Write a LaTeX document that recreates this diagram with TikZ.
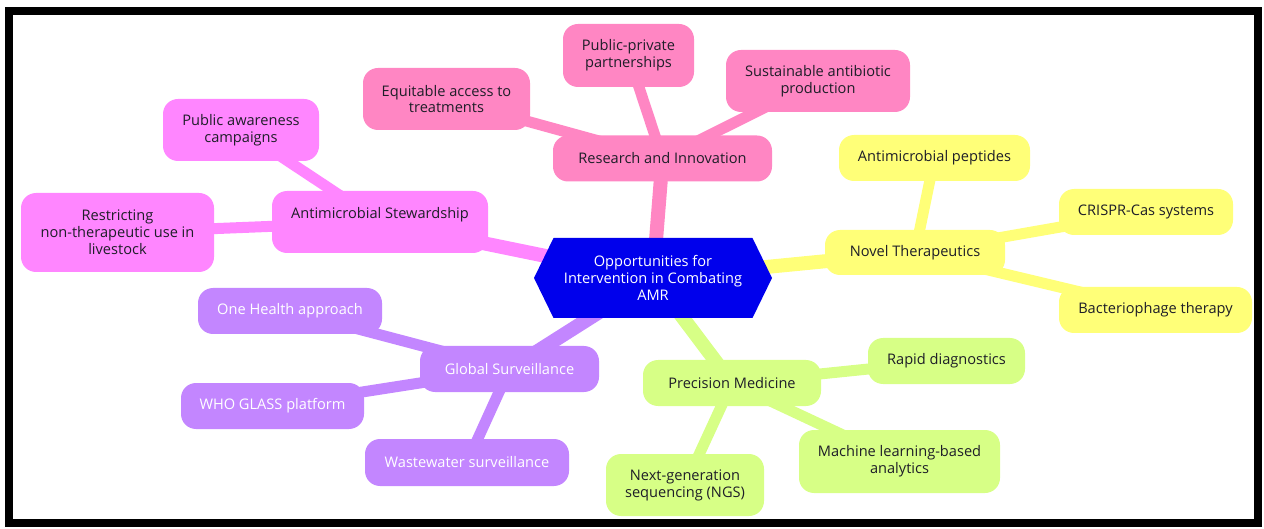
\documentclass[tikz,border=0pt]{standalone}
\usepackage{fontspec}
\setmainfont{Open Sans}
\usepackage{xcolor}
\usepackage{tikz}
\usetikzlibrary{shapes.symbols}
\usetikzlibrary{backgrounds}
\definecolor{rootcolor}{HTML}{0000EC}
\definecolor{pinkcolor}{HTML}{FF86C3}
\definecolor{magentacolor}{HTML}{FF86FF}
\definecolor{yellowcolor}{HTML}{FFFF78}
\definecolor{greencolor}{HTML}{D7FF86}
\definecolor{purplecolor}{HTML}{C386FF}
\definecolor{labelcolor}{HTML}{1E1E28}

\begin{document}
\begin{tikzpicture}[x=1pt,y=-1pt,
    every node/.style={font=\fontsize{14.6}{16.8}\selectfont, align=center, inner sep=0pt},
    mapbox/.style={rounded corners=15pt, fill=#1, text=labelcolor},
    rootbox/.style={signal, signal to=west and east, signal pointer angle=128, fill=rootcolor, text=white},
    mainedge/.style={line width=14pt, draw=#1},
    subedge/.style={line width=11pt, draw=#1}]
\useasboundingbox (0,0) rectangle (1264,529);
\draw[black, line width=8pt] (9,11) rectangle (1257.5,522.5);
%% root
\node[rootbox, minimum width=238pt, minimum height=80pt] (root) at (653,278) {Opportunities for\\Intervention in Combating\\AMR};
%% research and innovation
\node[mapbox=pinkcolor, minimum width=219pt, minimum height=46pt] (ri) at (662.5,158.5) {Research and Innovation};
\node[mapbox=pinkcolor, minimum width=167pt, minimum height=62pt] (eq) at (446.5,99) {Equitable access to\\treatments};
\node[mapbox=pinkcolor, minimum width=131pt, minimum height=63pt] (pp) at (628.5,55.5) {Public-private\\partnerships};
\node[mapbox=pinkcolor, minimum width=184pt, minimum height=62pt] (sus) at (818,81) {Sustainable antibiotic\\production};
%% stewardship
\node[mapbox=magentacolor, minimum width=216pt, minimum height=62pt, text height=10pt, text depth=17pt] (stw) at (380,222) {Antimicrobial Stewardship};
\node[mapbox=magentacolor, minimum width=156pt, minimum height=62pt] (paw) at (241,130) {Public awareness\\campaigns};
\node[mapbox=magentacolor, minimum width=193pt, minimum height=79pt] (res) at (117.5,232.5) {Restricting\\non-therapeutic use in\\livestock};
%% novel therapeutics
\node[mapbox=yellowcolor, minimum width=180pt, minimum height=45pt] (nt) at (915,252.5) {Novel Therapeutics};
\node[mapbox=yellowcolor, minimum width=191pt, minimum height=46pt] (amp) at (934.5,158) {Antimicrobial peptides};
\node[mapbox=yellowcolor, minimum width=174pt, minimum height=46pt] (cri) at (1146,212) {CRISPR-Cas systems};
\node[mapbox=yellowcolor, minimum width=193pt, minimum height=46pt] (bac) at (1155.5,310) {Bacteriophage therapy};
%% precision medicine
\node[mapbox=greencolor, minimum width=178pt, minimum height=46pt] (pm) at (732,383) {Precision Medicine};
\node[mapbox=greencolor, minimum width=157pt, minimum height=46pt] (rd) at (946.5,361) {Rapid diagnostics};
\node[mapbox=greencolor, minimum width=201pt, minimum height=63pt] (ml) at (899.5,461.5) {Machine learning-based\\analytics};
\node[mapbox=greencolor, minimum width=158pt, minimum height=62pt] (ngs) at (685,485) {Next-generation\\sequencing (NGS)};
%% global surveillance
\node[mapbox=purplecolor, text=white, minimum width=179pt, minimum height=46pt] (gs) at (509.5,369) {Global Surveillance};
\node[mapbox=purplecolor, text=white, minimum width=184pt, minimum height=46pt] (oh) at (290,311) {One Health approach};
\node[mapbox=purplecolor, text=white, minimum width=183pt, minimum height=46pt] (who) at (272.5,406) {WHO GLASS platform};
\node[mapbox=purplecolor, text=white, minimum width=204pt, minimum height=47pt] (ww) at (467,462.5) {Wastewater surveillance};
%% connectors
\begin{pgfonlayer}{background}
\draw[mainedge=pinkcolor] (root.center) -- (ri.center);
\draw[mainedge=magentacolor] (root.center) -- (stw.center);
\draw[mainedge=yellowcolor] (root.center) -- (nt.center);
\draw[mainedge=greencolor] (root.center) -- (pm.center);
\draw[mainedge=purplecolor] (root.center) -- (gs.center);
\foreach \leaf in {eq, pp, sus}
    \draw[subedge=pinkcolor] (ri.center) -- (\leaf.center);
\foreach \leaf in {paw, res}
    \draw[subedge=magentacolor] (stw.center) -- (\leaf.center);
\foreach \leaf in {amp, cri, bac}
    \draw[subedge=yellowcolor] (nt.center) -- (\leaf.center);
\foreach \leaf in {rd, ml, ngs}
    \draw[subedge=greencolor] (pm.center) -- (\leaf.center);
\foreach \leaf in {oh, who, ww}
    \draw[subedge=purplecolor] (gs.center) -- (\leaf.center);
\end{pgfonlayer}
\end{tikzpicture}
\end{document}
